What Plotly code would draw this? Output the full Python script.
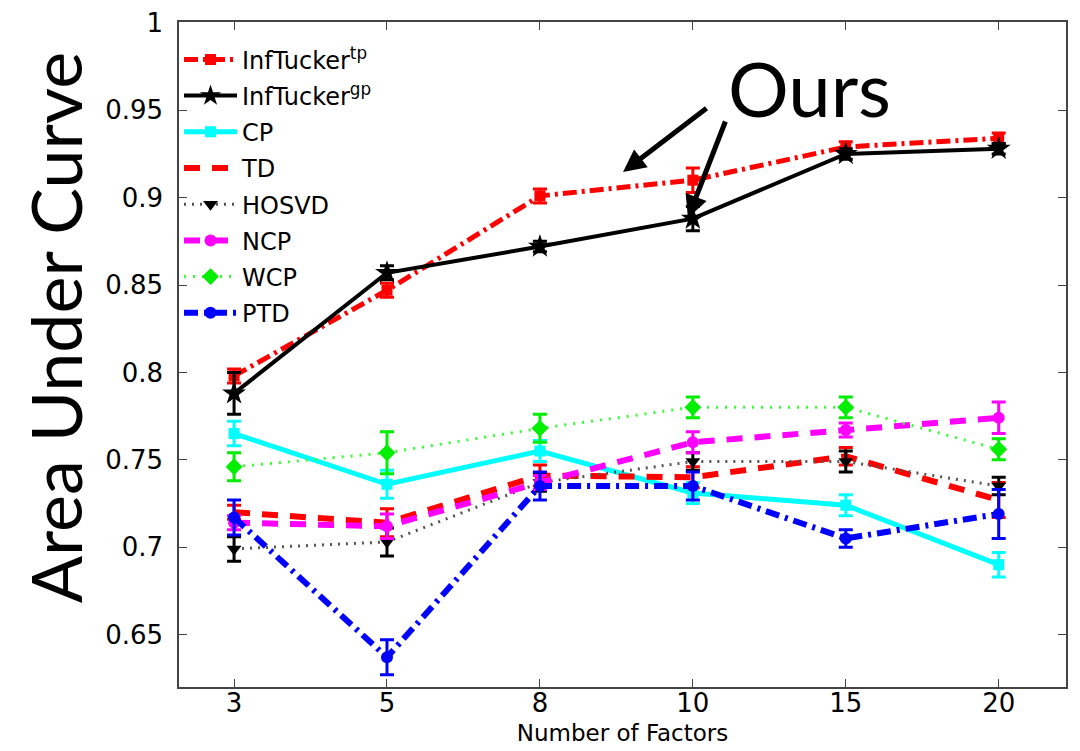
import plotly.graph_objects as go

x_labels = ["3", "5", "8", "10", "15", "20"]

inf_tp = [0.798, 0.847, 0.901, 0.910, 0.929, 0.934]
inf_tp_err = [0.004, 0.004, 0.004, 0.007, 0.003, 0.003]
inf_gp = [0.788, 0.857, 0.872, 0.888, 0.925, 0.928]
inf_gp_err = [0.012, 0.004, 0.003, 0.007, 0.003, 0.003]
cp = [0.765, 0.736, 0.755, 0.731, 0.724, 0.690]
cp_err = [0.007, 0.008, 0.006, 0.006, 0.006, 0.007]
td = [0.720, 0.714, 0.741, 0.740, 0.752, 0.727]
td_err = [0.004, 0.008, 0.006, 0.006, 0.005, 0.010]
hosvd = [0.699, 0.703, 0.737, 0.749, 0.749, 0.735]
hosvd_err = [0.007, 0.008, 0.005, 0.005, 0.006, 0.005]
ncp = [0.714, 0.712, 0.737, 0.760, 0.767, 0.774]
ncp_err = [0.004, 0.007, 0.004, 0.006, 0.004, 0.009]
wcp = [0.746, 0.754, 0.768, 0.780, 0.780, 0.756]
wcp_err = [0.008, 0.012, 0.008, 0.006, 0.006, 0.006]
ptd = [0.717, 0.637, 0.735, 0.735, 0.705, 0.719]
ptd_err = [0.010, 0.010, 0.008, 0.008, 0.005, 0.014]

y_ticks = [0.65, 0.7, 0.75, 0.8, 0.85, 0.9, 0.95, 1.0]
y_tick_text = ["0.65", "0.7", "0.75", "0.8", "0.85", "0.9", "0.95", "1"]

series = [
    ("InfTucker<sup>tp</sup>", inf_tp, inf_tp_err, "#ff0000", "#ff0000", 5, "14px,5px,3px,5px", "square", 11),
    ("InfTucker<sup>gp</sup>", inf_gp, inf_gp_err, "#000000", "#000000", 4, "solid", "star", 18),
    ("CP", cp, cp_err, "#00ffff", "#00ffff", 5, "solid", "square", 11),
    ("TD", td, td_err, "#ff0000", "#ff0000", 6, "16px,12px", None, 0),
    ("HOSVD", hosvd, hosvd_err, "#555555", "#000000", 3, "2px,6px", "triangle-down", 13),
    ("NCP", ncp, ncp_err, "#ff00ff", "#ff00ff", 6, "16px,12px", "circle", 12),
    ("WCP", wcp, wcp_err, "#33ff33", "#00ee00", 3, "2px,7px", "diamond", 13),
    ("PTD", ptd, ptd_err, "#0000ff", "#0000ff", 6, "14px,6px,3px,6px", "circle", 12),
]

fig = go.Figure()
for i, (name, vals, errs, lc, mc, lw, dash, sym, msize) in enumerate(series):
    mode = "lines+markers" if sym else "lines"
    marker = dict(symbol=sym, size=msize, color=mc) if sym else None
    fig.add_trace(go.Scatter(
        x=x_labels, y=vals, name=name, mode=mode,
        line=dict(color=lc, width=lw, dash=dash),
        marker=marker,
        error_y=dict(type="data", array=errs, visible=True, color=mc, thickness=3, width=7),
        legendgroup="g%d" % i,
    ))

base_font = "DejaVu Sans, Liberation Sans, Arial, sans-serif"
title_font = "Lato, Open Sans, sans-serif"

fig.update_layout(
    width=1080, height=751,
    paper_bgcolor="white", plot_bgcolor="white",
    margin=dict(l=171, r=22, t=14, b=72),
    font=dict(family=base_font, color="black"),
    showlegend=True,
    legend=dict(
        x=0.0, y=0.977, xanchor="left", yanchor="top",
        bgcolor="rgba(255,255,255,0)", borderwidth=0,
        font=dict(size=24, family=base_font),
        traceorder="grouped", tracegroupgap=2, itemwidth=53,
    ),
    xaxis=dict(
        type="category", range=[-0.36, 5.44], automargin=False,
        showline=True, linecolor="#444444", linewidth=1.5, mirror="ticks",
        ticks="inside", ticklen=8, tickcolor="#444444", tickwidth=1,
        showgrid=False, zeroline=False,
        tickfont=dict(size=26), ticklabelstandoff=-8,
        title=dict(text="Number of Factors", font=dict(size=23), standoff=8),
    ),
    yaxis=dict(
        range=[0.62, 1.0005], automargin=False,
        tickvals=y_ticks, ticktext=y_tick_text,
        showline=True, linecolor="#444444", linewidth=1.5, mirror="ticks",
        ticks="inside", ticklen=8, tickcolor="#444444", tickwidth=1,
        showgrid=False, zeroline=False,
        tickfont=dict(size=26), ticklabelstandoff=9,
        ticklabeloverflow="allow",
    ),
)

fig.add_annotation(
    xref="paper", yref="paper", x=-0.1398, y=0.541, text="Area Under Curve",
    textangle=-90, showarrow=False, xanchor="center", yanchor="middle",
    font=dict(size=70, family=title_font, color="black"),
)
fig.add_annotation(
    xref="paper", yref="paper", x=0.711, y=0.902, text="Ours", showarrow=False,
    xanchor="center", yanchor="middle",
    font=dict(size=76, family=title_font, color="black"),
)
fig.add_annotation(
    xref="paper", yref="paper", x=0.5006, y=0.7744, ax=85, ay=-65, text="",
    showarrow=True, arrowhead=2, arrowsize=0.9, arrowwidth=5, arrowcolor="black",
)
fig.add_annotation(
    xref="paper", yref="paper", x=0.5738, y=0.7053, ax=38, ay=-98, text="",
    showarrow=True, arrowhead=2, arrowsize=0.9, arrowwidth=5, arrowcolor="black",
)

fig.write_html("out.html")
